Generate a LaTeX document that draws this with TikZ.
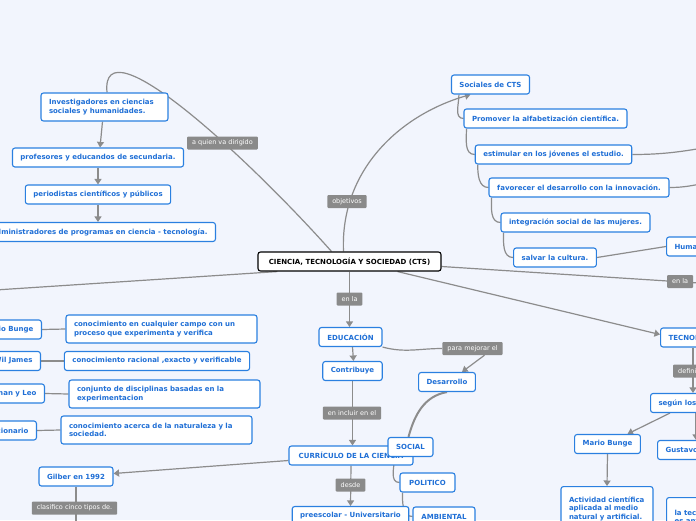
\documentclass[tikz,border=0pt]{standalone}
\usepackage{fontspec}
\setmainfont{DejaVu Sans}
\usetikzlibrary{arrows.meta}
\definecolor{bgblue}{HTML}{F2F5FD}
\definecolor{boxblue}{HTML}{2B80E0}
\definecolor{txtblue}{HTML}{1F6FD6}
\definecolor{linegray}{HTML}{8C8C8C}
\definecolor{taggray}{HTML}{8A8A8A}
\pgfdeclarelayer{bg}
\pgfsetlayers{bg,main}

\begin{document}
\begin{tikzpicture}[x=1pt, y=1pt,
    topic/.style={draw=boxblue, fill=white, rounded corners=2.5pt, line width=1.1pt, text=txtblue,
      font=\fontsize{7}{8.5}\selectfont\bfseries, inner xsep=8pt, inner ysep=2pt, minimum height=19pt},
    note/.style={topic, align=left, text width=#1},
    root/.style={topic, draw=black, text=black},
    tag/.style={fill=taggray, text=white, rounded corners=1pt, font=\fontsize{6.5}{7}\selectfont,
      inner xsep=5pt, inner ysep=1pt, minimum height=13pt},
    link/.style={draw=linegray, line width=1.2pt},
    arrow/.style={link, -{Triangle[width=7pt,length=5.5pt]}}]
    \useasboundingbox (0,0) rectangle (696,-520);
    \clip (0,0) rectangle (696,-520);

    % centre
    \node[root, minimum width=183pt] (cts) at (349.5,-261.5) {CIENCIA, TECNOLOGÍA Y SOCIEDAD (CTS)};

    % a quien va dirigido
    \node[note=111pt, minimum height=28pt] (inv) at (104.5,-107) {Investigadores  en ciencias\\sociales y humanidades.};
    \node[topic, minimum width=170pt] (prof) at (98,-157.5) {profesores y educandos de secundaria.};
    \node[topic, minimum width=144pt] (per) at (98,-194.5) {periodistas científicos y públicos};
    \node[topic, anchor=east] (adm) at (216,-232) {administradores de programas  en ciencia - tecnología.};
    \node[tag] (dirigido) at (222.5,-143) {a quien va dirigido};

    % objetivos
    \node[tag] (obj) at (347,-201.5) {objetivos};
    \node[topic, minimum width=77pt] (soc) at (490.5,-84.5) {Sociales de CTS};
    \node[topic, minimum width=161pt] (alf) at (545.5,-118.5) {Promover la alfabetización científica.};
    \node[topic, minimum width=153pt] (est) at (553.5,-154.5) {estimular en los jóvenes el estudio.};
    \node[topic, minimum width=180pt] (inn) at (579,-187.5) {favorecer el desarrollo  con la innovación.};
    \node[topic, minimum width=149pt] (muj) at (575.5,-222.5) {integración social de las mujeres.};
    \node[topic, minimum width=82pt] (cul) at (555,-257.5) {salvar la cultura.};
    \node[topic, anchor=west] (hum) at (666,-246.5) {Humanidades};
    \node[tag, anchor=west] (enla2) at (667,-281.5) {en la};

    % tecnologia
    \node[topic, anchor=west] (tec) at (660,-337.5) {TECNOLOGÍA};
    \node[tag, anchor=west] (def) at (673,-371) {definición};
    \node[topic, anchor=west] (seg) at (650,-403) {según los autores};
    \node[topic, minimum width=65pt] (bun) at (607.5,-444) {Mario Bunge};
    \node[topic, anchor=west] (gus) at (657,-450) {Gustavo Pérez};
    \node[note=76pt, minimum height=44pt, anchor=north] (act) at (607,-486) {Actividad científica\\aplicada  al medio\\natural y artificial.};
    \node[note=60pt, minimum height=40pt, anchor=north west] (ant) at (666,-497) {la tecnología\\es antigua};

    % educacion
    \node[tag] (enla) at (349.5,-299) {en la};
    \node[topic, minimum width=63pt] (edu) at (350.5,-337) {EDUCACIÓN};
    \node[topic, minimum width=59pt] (con) at (352.5,-371) {Contribuye};
    \node[tag] (mejor) at (472.5,-348.5) {para mejorar el};
    \node[topic, minimum width=56pt] (des) at (447,-382) {Desarrollo};
    \node[tag] (incl) at (352,-413) {en incluir en el};
    \node[topic, minimum width=124pt] (cur) at (351,-455.5) {CURRÍCULO DE LA CIENCIA};
    \node[topic, minimum width=45pt] (socl) at (410.5,-447) {SOCIAL};
    \node[topic, minimum width=55pt] (pol) at (427.5,-482.5) {POLITICO};
    \node[topic, minimum width=62pt] (amb) at (444,-516.5) {AMBIENTAL};
    \node[tag] (desde) at (350.5,-485) {desde};
    \node[topic, minimum width=115pt] (pre) at (350.5,-516) {preescolar - Universitario};
    \node[topic, minimum width=74pt] (gil) at (76,-476.5) {Gilber en 1992};
    \node[tag] (cinco) at (74.5,-508) {clasifico cinco tipos de.};

    % ciencia
    \node[topic, anchor=east] (mb) at (42,-329.5) {Mario Bunge};
    \node[topic, anchor=east] (wj) at (41,-361) {Wil James};
    \node[topic, anchor=east] (nl) at (45,-393.5) {Newman y Leo};
    \node[topic, anchor=east] (dic) at (37,-430.5) {Diccionario};
    \node[note=175pt, minimum height=28pt] (d1) at (161.5,-329) {conocimiento en cualquier campo  con un\\proceso  que experimenta y verifica};
    \node[topic, minimum width=184pt] (d2) at (157,-361) {conocimiento racional ,exacto y verificable};
    \node[note=175pt, minimum height=28pt] (d3) at (164.5,-394) {conjunto de disciplinas  basadas en la\\experimentacion};
    \node[note=175pt, minimum height=28pt] (d4) at (156.5,-430) {conocimiento acerca de la naturaleza y la\\sociedad.};

    \coordinate (offA) at (720,-145);
    \coordinate (offB) at (720,-180);
    \coordinate (offC) at (-20,-291);
    \coordinate (offD) at (76,-530);
    \coordinate (offE) at (730,-285);

    \begin{pgfonlayer}{bg}
    \clip (0,0) rectangle (696,-520);
    \fill[bgblue] (0,0) rectangle (696,-520);

    \draw[link] ([xshift=-18pt]cts.north) .. controls (250,-160) and (100,-20) .. ([xshift=2.5pt]inv.north);
    \draw[arrow] ([xshift=-2pt]inv.south) -- ([xshift=2pt]prof.north);
    \draw[arrow] (prof.south) -- (per.north);
    \draw[arrow] (per.south) -- (per.south |- adm.north);

    \draw[arrow] ([xshift=-6pt]cts.north) .. controls (340,-170) and (400,-115) .. ([xshift=-20pt]soc.south);
    \draw[link] ([xshift=8pt]soc.south west) to[out=-90,in=180] (alf.west);
    \draw[link] ([xshift=3pt]alf.south west) to[out=-90,in=180] (est.west);
    \draw[link] ([xshift=3pt]est.south west) to[out=-90,in=180] (inn.west);
    \draw[link] ([xshift=3pt]inn.south west) to[out=-90,in=180] (muj.west);
    \draw[link] ([xshift=3pt]muj.south west) to[out=-90,in=180] (cul.west);
    \draw[link] (est.east) to[out=0,in=190] (offA);
    \draw[link] (inn.east) to[out=0,in=190] (offB);
    \draw[link] (cul.east) -- (hum.west);

    \draw[link] ([yshift=-5pt]cts.east) -- (offE);
    \draw[link] ([xshift=20pt]cts.south west) -- (offC);

    \draw[arrow] ([xshift=48pt]cts.south) -- ([yshift=3pt]tec.west);
    \draw[arrow] ([xshift=33pt]tec.south west) -- ([xshift=43pt]seg.north west);
    \draw[arrow] ([xshift=20pt]seg.south west) -- ([xshift=20pt]bun.north);
    \draw[arrow] ([xshift=46pt]seg.south west) -- ([xshift=39pt]gus.north west);
    \draw[arrow] (bun.south) -- (act.north);

    \draw[arrow] (cts.south) -- (cts.south |- edu.north);
    \draw[arrow] ([xshift=2pt]edu.south) -- ([xshift=1pt]con.north);
    \draw[link] (edu.south east) to[out=-15,in=180] (mejor.west);
    \draw[arrow] ([xshift=12pt]mejor.south) -- ([xshift=15pt]des.north);
    \draw[arrow] (con.south) -- (con.south |- cur.north);
    \draw[link, line width=2pt] (des.south) to[out=190,in=75] ([xshift=-2pt]socl.north);
    \draw[link] ([xshift=7pt]socl.south west) to[out=-90,in=180] (pol.west);
    \draw[link] ([xshift=3pt]pol.south west) to[out=-90,in=180] (amb.west);
    \draw[arrow] (cur.south) -- (pre.north);
    \draw[arrow] ([yshift=-5pt]cur.west) -- ([yshift=3pt]gil.east);
    \draw[link] (gil.south) -- (offD);

    \draw[link] (mb.east) -- (d1.west);
    \draw[link] (wj.east) -- (d2.west);
    \draw[link] (nl.east) -- (d3.west);
    \draw[link] (dic.east) -- (d4.west);
    \end{pgfonlayer}

\end{tikzpicture}
\end{document}
